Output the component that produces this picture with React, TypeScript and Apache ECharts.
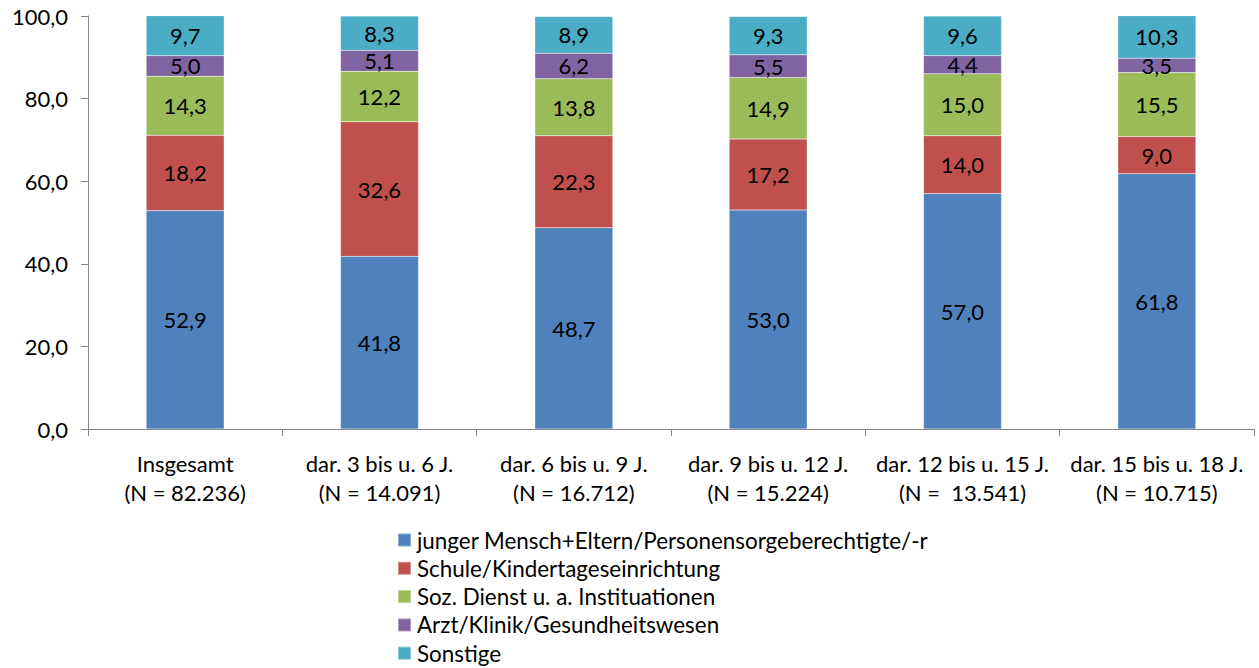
import React, { useEffect, useRef } from "react";
import * as echarts from "echarts";

const categories = [
  "Insgesamt\n(N = 82.236)",
  "dar. 3 bis u. 6 J.\n(N = 14.091)",
  "dar. 6 bis u. 9 J.\n(N = 16.712)",
  "dar. 9 bis u. 12 J.\n(N = 15.224)",
  "dar. 12 bis u. 15 J.\n(N =  13.541)",
  "dar. 15 bis u. 18 J.\n(N = 10.715)",
];

const jungerMensch = [52.9, 41.8, 48.7, 53.0, 57.0, 61.8];
const schule = [18.2, 32.6, 22.3, 17.2, 14.0, 9.0];
const sozDienst = [14.3, 12.2, 13.8, 14.9, 15.0, 15.5];
const arzt = [5.0, 5.1, 6.2, 5.5, 4.4, 3.5];
const sonstige = [9.7, 8.3, 8.9, 9.3, 9.6, 10.3];

const names = [
  "junger Mensch+Eltern/Personensorgeberechtigte/-r",
  "Schule/Kindertageseinrichtung",
  "Soz. Dienst u. a. Instituationen",
  "Arzt/Klinik/Gesundheitswesen",
  "Sonstige",
];
const colors = ["#4F81BD", "#C0504D", "#9BBB59", "#8064A2", "#4BACC6"];
const yTicks = [0, 20, 40, 60, 80, 100];

const FONT = "Lato, 'Open Sans', sans-serif";

export default function App() {
  const ref = useRef<HTMLDivElement>(null);
  useEffect(() => {
    if (!ref.current) return;
    const chart = echarts.init(ref.current, null, { renderer: "svg" });
    const data = [jungerMensch, schule, sozDienst, arzt, sonstige];
    chart.setOption({
      animation: false,
      textStyle: { fontFamily: FONT },
      grid: { left: 88, right: 5, top: 16, bottom: 239, containLabel: false },
      legend: {
        orient: "vertical",
        left: 397,
        top: 529,
        height: 180,
        padding: 0,
        itemWidth: 13,
        itemHeight: 13,
        itemGap: 6.3,
        icon: "rect",
        textStyle: { fontSize: 22.4, color: "#000", lineHeight: 18, fontFamily: FONT, padding: [0, 0, 0, 1] },
        data: names,
      },
      xAxis: {
        type: "category",
        data: categories,
        axisLine: { lineStyle: { color: "#868686", width: 1 } },
        axisTick: { show: true, length: 7, alignWithLabel: false, lineStyle: { color: "#868686" } },
        axisLabel: { fontSize: 22, color: "#000", lineHeight: 29, margin: 20, interval: 0, fontFamily: FONT },
      },
      yAxis: {
        type: "value",
        min: yTicks[0],
        max: yTicks[yTicks.length - 1],
        interval: 20,
        splitLine: { show: false },
        axisLine: { show: true, lineStyle: { color: "#868686", width: 1 } },
        axisTick: { show: true, length: 7, lineStyle: { color: "#868686" } },
        axisLabel: {
          fontSize: 22,
          color: "#000",
          margin: 20,
          fontFamily: FONT,
          formatter: (v: number) => v.toFixed(1).replace(".", ","),
        },
      },
      series: data.map((d, i) => ({
        name: names[i],
        type: "bar",
        stack: "total",
        barWidth: 78,
        data: d,
        itemStyle: { color: colors[i], borderColor: "rgba(255,255,255,0.35)", borderWidth: 0.5 },
        label: {
          show: true,
          position: "inside",
          color: "#000",
          fontSize: 22,
          fontFamily: FONT,
          formatter: (p: any) => Number(p.value).toFixed(1).replace(".", ","),
        },
      })),
    });
    return () => chart.dispose();
  }, []);
  return (
    <div
      ref={ref}
      style={{ position: "fixed", left: 0, top: 0, width: 1259, height: 668, background: "#fff" }}
    />
  );
}
